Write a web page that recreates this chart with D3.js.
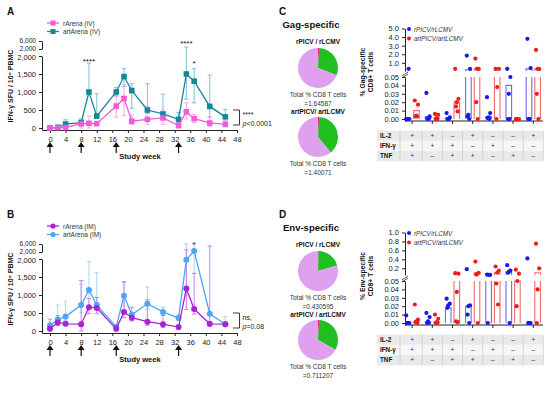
<!DOCTYPE html>
<html><head><meta charset="utf-8">
<script src="https://cdn.jsdelivr.net/npm/d3@7"></script>
<style>body{margin:0;background:#fff}svg{font-family:Arial,"Liberation Sans",sans-serif}</style>
</head><body><svg id="c" width="550" height="398"></svg>
<script>
// ---------- DATA ----------
const weeks = [0,2,4,8,10,12,17,19,21,25,29,33,35,37,41,45];
const xTicks = [0,4,8,12,16,20,24,28,32,36,40,44,48];
const boostWeeks = [0,8,17,33];
const yLowTicks = [0,500,1000,1500,2000];
const yHighTicks = [2000,6000];

const rArenaIV    = [0,10,10,120,130,120,610,820,190,240,280,70,450,260,140,100];
const rArenaIVhi  = [0,20,30,250,330,150,880,1200,360,600,500,150,700,380,320,200];
const rArenaIVlo  = [0,0,0,0,0,100,300,350,100,100,100,0,250,150,50,50];
const artArenaIV  = [0,20,110,150,1000,330,1000,1430,1040,500,390,240,1500,1300,600,310];
const artArenaIVhi= [0,40,230,250,1800,950,1130,1650,1230,1230,940,430,3000,1650,1470,520];
const artArenaIVlo= [0,0,50,50,1000,300,900,1150,550,400,300,100,800,700,300,200];

const rArenaIM    = [60,240,200,190,660,640,60,530,370,260,190,110,1180,610,200,190];
const rArenaIMhi  = [330,430,260,1400,900,930,120,1370,660,870,430,150,3000,1600,5000,250];
const rArenaIMlo  = [0,150,150,0,480,480,0,370,280,160,100,50,600,470,130,150];
const artArenaIM  = [150,320,400,720,1140,720,120,980,450,760,530,360,1980,2500,480,190];
const artArenaIMhi= [250,720,830,1300,1930,1620,160,1350,500,1220,660,450,6000,6000,480,400];
const artArenaIMlo= [80,200,300,500,900,600,80,700,300,600,460,300,1000,1600,480,150];

const pieLabels = ["Gag-specific","Env-specific"];
const pieGroups = [["rPICV / rLCMV","artPICV/ artLCMV"],["rPICV / rLCMV","artPICV / artLCMV"]];
const pieTotals = [["=1.64587","=1.40071"],["=0.430595","=0.711207"]];
// slices: [IL-2+IFN+TNF (tiny), green fraction, violet rest]
const pieValues = [[[0.01,0.30,0.69],[0.01,0.38,0.61]],[[0.005,0.20,0.795],[0.01,0.32,0.67]]];

const il2Signs = ["+","+","–","+","–","–","+"];
const ifnSigns = ["+","+","+","–","+","–","–"];
const tnfSigns = ["+","–","+","+","–","+","–"];

const gagBlue = [[0,0,0,0,0.3],[0.031,0.003,0.001,0,0],[0.007,0.002,0,0,0],[1.85,0.3,0.005,0.003,0],[0.026,0.007,0.002,0.001,0],[0.3,0.05,0.03,0,0],[3.8,0.4,0,0,0]];
const gagRed  = [[0.022,0.017,0.004,0.003,0.003],[0.006,0.005,0.001,0,0],[0.3,0.024,0.02,0.015,0.009],[1.5,0.3,0.3,0.02,0],[0.3,0.3,0.038,0],[0,0,0,0],[2.5,0.3,0.3,0.03,0]];
const gagBlueBar = [0,0.003,0.001,0.2,0.003,0.04,0.3];
const gagRedBar  = [0.01,0.001,0.02,0.3,0.2,0,0.3];
const gagUpperTicks = [1,2,3,4,5];

const envBlue = [[0.009,0,0,0,0],[0.012,0.007,0.002,0,0],[0.029,0.023,0.021,0.018],[0.18,0.021,0.02,0.01,0],[0.06,0.055,0.055,0],[0.27,0.15,0.12,0.1,0],[0.42,0,0,0]];
const envRed  = [[0.022,0.004,0.002,0.001,0],[0.01,0.005,0.001,0,0],[0.09,0.08,0.037,0.002,0.001],[0.35,0.1,0.07,0.06,0],[0.24,0.15,0.1,0.047,0.022],[0.17,0.08,0.05,0.02],[0.75,0.2,0.04,0]];
const envBlueBar = [0,0.001,0.018,0.02,0.06,0.12,0];
const envRedBar  = [0.001,0.001,0.08,0.1,0.1,0.05,0.1];
const envUpperTicks = [0.2,0.4,0.6,0.8,1.0];
const lowTicks = [0,0.01,0.02,0.03,0.04,0.05];

// ---------- DRAW ----------
const svg = d3.select("#c");
const F = "Arial,'Liberation Sans',sans-serif";

function txt(g,x,y,s,o={}){
  const t=g.append("text").attr("x",x).attr("y",y).text(s)
    .attr("font-size",o.size||7).attr("fill",o.fill||"#111")
    .attr("font-weight",o.bold?"bold":"normal").attr("text-anchor",o.anchor||"start");
  if(o.italic) t.attr("font-style","italic");
  if(o.rot) t.attr("transform",`rotate(-90,${x},${y})`);
  return t;
}
function styleAxis(a,fs){
  a.selectAll("path,line").attr("stroke","#222").attr("stroke-width",1);
  a.selectAll("text").attr("font-size",fs).attr("fill","#222").attr("font-family",F);
}

// ---- line panels ----
function linePanel(oy, letter, series, legendNames, marker, sig, bracketText){
  const g = svg.append("g");
  const x = d3.scaleLinear().domain([-2,48]).range([42.2,237]);
  const yl = d3.scaleLinear().domain([-55,2000]).range([130+oy,56+oy]);
  const yh = d3.scaleLinear().domain([2000,6000]).range([49+oy,41+oy]);
  const y = v => v<=2000 ? yl(v) : yh(Math.min(v,6000));
  txt(g,7,15+oy,letter,{size:10,bold:true});

  const ax1 = g.append("g").attr("transform","translate(42,0)")
     .call(d3.axisLeft(yl).tickValues(yLowTicks).tickSize(3).tickSizeOuter(0));
  styleAxis(ax1,7.5);
  ax1.selectAll(".tick").filter(d=>d===2000).select("text").attr("dy","0.45em");
  const ax2 = g.append("g").attr("transform","translate(42,0)")
     .call(d3.axisLeft(yh).tickValues(yHighTicks).tickSize(3).tickSizeOuter(0));
  styleAxis(ax2,6.6);
  ax2.selectAll(".tick text").attr("dy","0.2em");
  const ax3 = g.append("g").attr("transform",`translate(0,${130+oy})`)
     .call(d3.axisBottom(x).tickValues(xTicks).tickSize(3).tickSizeOuter(0));
  styleAxis(ax3,7.5);
  ax3.selectAll("text").attr("dy","0.85em");

  txt(g,13,86+oy,"IFN-γ SFU / 10⁶ PBMC",{size:7,bold:true,anchor:"middle",rot:true});
  txt(g,140,159+oy,"Study week",{size:7.5,bold:true,anchor:"middle"});

  // arrows
  boostWeeks.forEach(w=>{
    const cx=x(w), t=142+oy;
    g.append("line").attr("x1",cx).attr("x2",cx).attr("y1",t+3).attr("y2",t+11).attr("stroke","#111").attr("stroke-width",1.2);
    g.append("path").attr("d",`M${cx},${t} L${cx-3.5},${t+5} L${cx+3.5},${t+5}Z`).attr("fill","#111");
  });

  // series
  series.forEach(s=>{
    const eg=g.append("g");
    weeks.forEach((w,i)=>{
      const cx=x(w);
      const hi=s.hi[i], lo=s.lo[i], v=s.v[i];
      if(hi>v){
        eg.append("line").attr("x1",cx).attr("x2",cx).attr("y1",y(v)).attr("y2",y(hi)).attr("stroke",s.ec).attr("stroke-width",1);
        eg.append("line").attr("x1",cx-2.2).attr("x2",cx+2.2).attr("y1",y(hi)).attr("y2",y(hi)).attr("stroke",s.ec).attr("stroke-width",1);
      }
      if(lo<v){
        eg.append("line").attr("x1",cx).attr("x2",cx).attr("y1",y(v)).attr("y2",y(lo)).attr("stroke",s.ec).attr("stroke-width",1);
        eg.append("line").attr("x1",cx-2.2).attr("x2",cx+2.2).attr("y1",y(lo)).attr("y2",y(lo)).attr("stroke",s.ec).attr("stroke-width",1);
      }
    });
  });
  series.forEach(s=>{
    g.append("path").datum(weeks.map((w,i)=>[x(w),y(s.v[i])]))
      .attr("d",d3.line()).attr("fill","none").attr("stroke",s.c).attr("stroke-width",1.3);
    weeks.forEach((w,i)=>{
      if(marker==="sq") g.append("rect").attr("x",x(w)-2.8).attr("y",y(s.v[i])-2.8).attr("width",5.6).attr("height",5.6).attr("fill",s.c);
      else g.append("circle").attr("cx",x(w)).attr("cy",y(s.v[i])).attr("r",3).attr("fill",s.c);
    });
  });
  // legend (artArena second)
  [series[1],series[0]].forEach((s,k)=>{
    const ly=23+oy+k*8.5;
    g.append("line").attr("x1",47).attr("x2",59).attr("y1",ly).attr("y2",ly).attr("stroke",s.c).attr("stroke-width",1.3);
    if(marker==="sq") g.append("rect").attr("x",50.5).attr("y",ly-2.5).attr("width",5).attr("height",5).attr("fill",s.c);
    else g.append("circle").attr("cx",53).attr("cy",ly).attr("r",2.6).attr("fill",s.c);
    txt(g,63,ly+2.5,legendNames[k],{size:6.5,fill:"#333"});
  });
  // significance
  sig.forEach(d=>txt(g,x(d.w),d.y+oy,d.t,{size:8,anchor:"middle"}));
  g.append("path").attr("d",`M233,${110+oy} H239.5 V${125+oy} H233`).attr("fill","none").attr("stroke","#222").attr("stroke-width",0.9);
  txt(g,242.5,117+oy,bracketText[0],{size:7});
  const t2=g.append("text").attr("x",242.5).attr("y",125.5+oy).attr("font-size",7).attr("fill","#222");
  t2.append("tspan").attr("font-style","italic").text("p");
  t2.append("tspan").text(bracketText[1]);
}

linePanel(0,"A",
  [{v:artArenaIV,hi:artArenaIVhi,lo:artArenaIVlo,c:"#16879a",ec:"#7fc3cf"},
   {v:rArenaIV,hi:rArenaIVhi,lo:rArenaIVlo,c:"#f25ad8",ec:"#f7a6e8"}],
  ["rArena (IV)","artArena (IV)"],"sq",
  [{w:10,y:64,t:"****"},{w:35,y:46,t:"****"},{w:37,y:66,t:"*"}],["****","<0.0001"]);
linePanel(203,"B",
  [{v:artArenaIM,hi:artArenaIMhi,lo:artArenaIMlo,c:"#4da6f2",ec:"#aad3f8"},
   {v:rArenaIM,hi:rArenaIMhi,lo:rArenaIMlo,c:"#a822d8",ec:"#cf7ee9"}],
  ["rArena (IM)","artArena (IM)"],"ci",
  [{w:37,y:44,t:"*"}],["ns,","=0.08"]);

// ---- pies ----
const pieColors = ["#e0206a","#22bf22","#dfa1ef"];
function piePanel(oy, k, letter){
  const g=svg.append("g");
  txt(g,279,15+oy,letter,{size:10,bold:true});
  txt(g,311,28+oy,pieLabels[k],{size:9.5,bold:true,anchor:"middle"});
  const arc=d3.arc().innerRadius(0).outerRadius(20);
  const pie=d3.pie().sort(null);
  [0,1].forEach(j=>{
    const cy=(j?137:68)+oy;
    txt(g,318,(j?114:44)+oy,pieGroups[k][j],{size:6.5,bold:true,anchor:"middle"});
    g.append("g").attr("transform",`translate(318,${cy})`).selectAll("path")
      .data(pie(pieValues[k][j])).join("path").attr("d",arc).attr("fill",(d,i)=>pieColors[i]);
    txt(g,318,(j?166:97)+oy,"Total % CD8 T cells",{size:6.5,fill:"#333",anchor:"middle"});
    txt(g,318,(j?175:106)+oy,pieTotals[k][j],{size:6.5,fill:"#333",anchor:"middle"});
  });
}
piePanel(0,0,"C");
piePanel(203,1,"D");

// ---- dot/bar panels ----
function dotPanel(oy, blue, red, blueBar, redBar, upperMax, upperTicks, upFmt, ylabel){
  const g=svg.append("g");
  const x=d3.scalePoint().domain(d3.range(7)).range([402,543.4]).padding(0.5);
  const yl=d3.scaleLinear().domain([-0.0024,0.05]).range([121+oy,77+oy]);
  const yu=d3.scaleLinear().domain([0.05,upperMax]).range([71+oy,28.5+oy]);
  const y=v=> v<=0.05 ? yl(v) : yu(v);
  const a1=g.append("g").attr("transform","translate(405,0)")
    .call(d3.axisLeft(yl).tickValues(lowTicks).tickFormat(d3.format(".2f")).tickSize(3).tickSizeOuter(0));
  styleAxis(a1,7.5);
  const a2=g.append("g").attr("transform","translate(405,0)")
    .call(d3.axisLeft(yu).tickValues(upperTicks).tickFormat(d3.format(upFmt)).tickSize(3).tickSizeOuter(0));
  styleAxis(a2,7.5);
  // break marks
  g.append("path").attr("d",`M402,${76+oy} L408,${72+oy} M402,${78+oy} L408,${74+oy}`).attr("stroke","#222").attr("stroke-width",0.8);
  g.append("path").attr("d",`M405,${121+oy} H543`).attr("stroke","#222");
  x.domain().forEach(i=>g.append("line").attr("x1",x(i)).attr("x2",x(i)).attr("y1",121+oy).attr("y2",124+oy).attr("stroke","#222"));

  // y label
  txt(g,365,72+oy,ylabel,{size:6.8,bold:true,anchor:"middle",rot:true});
  txt(g,373,72+oy,"CD8+ T cells",{size:6.8,bold:true,anchor:"middle",rot:true});

  // bars
  function bar(cx,v,col){
    if(v<=0) return;
    const w=5.6, x0=cx-w/2, x1=cx+w/2;
    const top = Math.min(v,0.05);
    let d=`M${x0},${y(0)} V${yl(top)} `;
    if(v<=0.05) d+=`H${x1} V${y(0)}`; else d+=`M${x1},${yl(top)} V${y(0)}`;
    if(v>0.05) d+=` M${x0},${yu(0.05)} V${yu(v)} H${x1} V${yu(0.05)}`;
    g.append("path").attr("d",d).attr("fill","none").attr("stroke",col).attr("stroke-width",1.1);
  }
  x.domain().forEach(i=>{
    bar(x(i)-4.3,blueBar[i],"#6b6bf2");
    bar(x(i)+4.3,redBar[i],"#f26a6a");
  });
  const offs=[-1.6,1.6,0,-0.8,0.8];
  x.domain().forEach(i=>{
    blue[i].forEach((v,j)=>g.append("circle").attr("cx",x(i)-4.3+offs[j%5]).attr("cy",y(v)).attr("r",2.1).attr("fill","#1a1ae6"));
    red[i].forEach((v,j)=>g.append("circle").attr("cx",x(i)+4.3+offs[j%5]).attr("cy",y(v)).attr("r",2.1).attr("fill","#f01c1c"));
  });
  // legend
  g.append("circle").attr("cx",409).attr("cy",29+oy).attr("r",2).attr("fill","#1a1ae6");
  txt(g,414,31.5+oy,"rPICV/rLCMV",{size:6.3,italic:true,fill:"#333"});
  g.append("circle").attr("cx",409).attr("cy",38.5+oy).attr("r",2).attr("fill","#f01c1c");
  txt(g,414,41+oy,"artPICV/artLCMV",{size:6.3,italic:true,fill:"#333"});

  // table
  const rows=[["IL-2",il2Signs],["IFN-γ",ifnSigns],["TNF",tnfSigns]];
  rows.forEach((r,k)=>{
    const ty=130.5+oy+k*10.3;
    g.append("rect").attr("x",377).attr("y",ty).attr("width",166).attr("height",10.3).attr("fill",k===1?"#f6f6f6":"#e9e9e9");
    txt(g,380,ty+7.3,r[0],{size:6.3,bold:true});
    r[1].forEach((s,i)=>txt(g,x(i),ty+7.3,s,{size:6.5,anchor:"middle",fill:"#333"}));
  });
  d3.range(8).forEach(k=>{
    const lx = k===0?400:402+k*20.2;
    g.append("line").attr("x1",lx).attr("x2",lx).attr("y1",130.5+oy).attr("y2",161.4+oy).attr("stroke","#c8c8c8").attr("stroke-width",0.7);
  });
}
dotPanel(0,gagBlue,gagRed,gagBlueBar,gagRedBar,5,gagUpperTicks,".1f","% Gag-specific");
dotPanel(204,envBlue,envRed,envBlueBar,envRedBar,1,envUpperTicks,".1f","% Env-specific");
</script></body></html>
